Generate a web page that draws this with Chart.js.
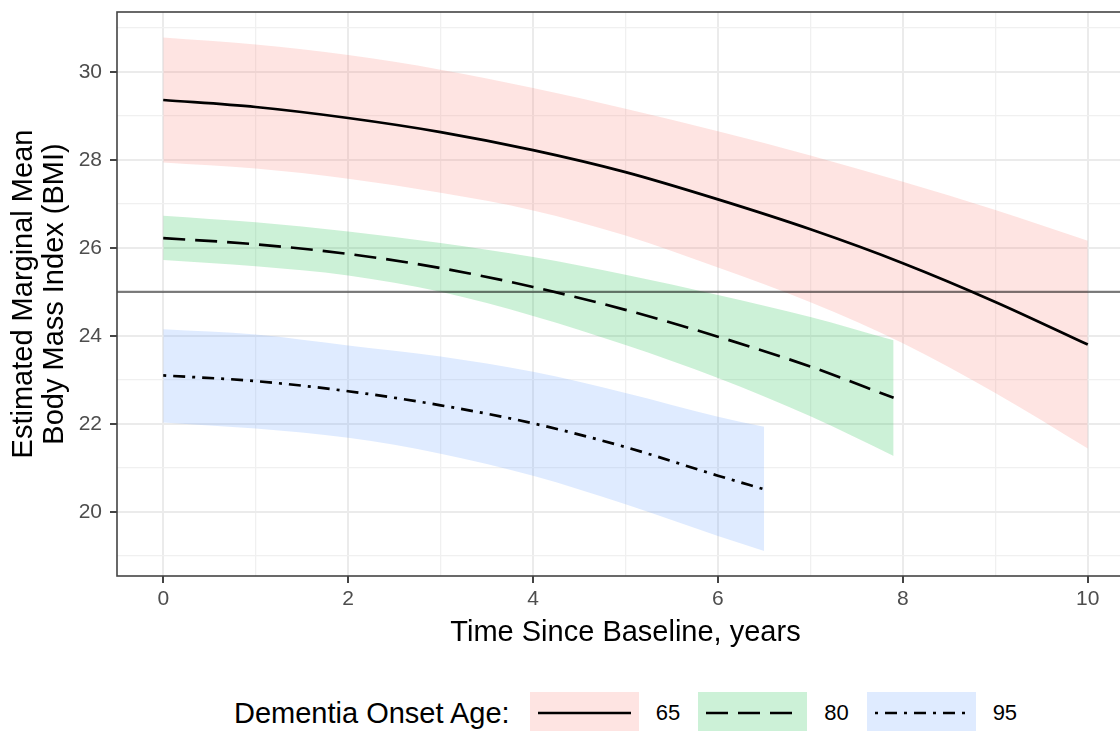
<!DOCTYPE html>
<html>
<head>
<meta charset="utf-8">
<script src="https://cdn.jsdelivr.net/npm/chart.js@4.4.1/dist/chart.umd.min.js"></script>
<style>
  html, body { margin: 0; padding: 0; background: #fff; overflow: hidden; }
  #wrap { position: relative; width: 1120px; height: 731px; overflow: hidden; font-family: "Liberation Sans", Arial, sans-serif; }
  #chartBox { position: absolute; left: 0; top: 0; width: 1140px; height: 660px; }
  #legend { position: absolute; left: 234px; top: 692px; height: 42px; display: flex; align-items: center; }
  #legend .title { font-size: 29px; color: #000; margin-right: 20px; white-space: nowrap; }
  #legend .key { width: 109px; height: 42px; }
  #legend .lab { font-size: 22px; color: #000; margin: 0 18px 0 17px; }
</style>
</head>
<body>
<div id="wrap">
  <div id="chartBox"><canvas id="grafico" width="1140" height="660"></canvas></div>
  <div id="legend"></div>
</div>
<script>
// eixos
const xMajor = [0, 2, 4, 6, 8, 10];
const xMinor = [1, 3, 5, 7, 9];
const yMajor = [20, 22, 24, 26, 28, 30];
const yMinor = [19, 21, 23, 25, 27, 29, 31];
const xRange = [-0.5, 10.5];
const yRange = [18.54, 31.36];

// idade de início 65
const times65 = [0, 1, 2, 3, 4, 5, 6, 7, 8, 9, 10];
const mean65  = [29.36, 29.20, 28.95, 28.63, 28.22, 27.72, 27.10, 26.42, 25.65, 24.77, 23.80];
const upper65 = [30.78, 30.62, 30.38, 30.05, 29.63, 29.16, 28.65, 28.10, 27.50, 26.86, 26.16];
const lower65 = [27.94, 27.80, 27.57, 27.25, 26.85, 26.28, 25.55, 24.76, 23.83, 22.70, 21.44];

// idade de início 80
const times80 = [0, 1, 2, 3, 4, 5, 6, 7, 7.9];
const mean80  = [26.22, 26.08, 25.86, 25.54, 25.11, 24.59, 23.98, 23.30, 22.59];
const upper80 = [26.73, 26.58, 26.37, 26.11, 25.79, 25.39, 24.93, 24.43, 23.90];
const lower80 = [25.72, 25.58, 25.37, 25.00, 24.45, 23.79, 23.04, 22.17, 21.27];

// idade de início 95
const times95 = [0, 1, 2, 3, 4, 5, 6, 6.5];
const mean95  = [23.10, 22.97, 22.74, 22.42, 22.01, 21.47, 20.82, 20.51];
const upper95 = [24.15, 24.03, 23.78, 23.53, 23.18, 22.70, 22.16, 21.93];
const lower95 = [22.03, 21.89, 21.68, 21.32, 20.82, 20.17, 19.45, 19.11];

// linha de referência
const refX = [-0.5, 10.5];
const refY = [25, 25];

const groupLabels = ['65', '80', '95'];
const ribbonColors = ['rgba(248,118,109,0.2)', 'rgba(0,186,56,0.2)', 'rgba(97,156,255,0.2)'];
const dashes = [[], [22, 10], [3, 7, 12, 7]];
const legendTitle = 'Dementia Onset Age:';

const FONT = '"Liberation Sans", Arial, sans-serif';

function pontos(xs, ys) {
    return xs.map((x, i) => ({ x: x, y: ys[i] }));
}

function linha(xs, ys, dash) {
    return {
        data: pontos(xs, ys),
        borderColor: '#000',
        borderWidth: 2.7,
        borderDash: dash,
        pointRadius: 0,
        fill: false,
        cubicInterpolationMode: 'monotone',
        order: 0
    };
}

function faixa(xs, ys, cor, alvo) {
    return {
        data: pontos(xs, ys),
        borderColor: 'transparent',
        borderWidth: 0,
        backgroundColor: cor,
        pointRadius: 0,
        fill: alvo === null ? false : { target: alvo },
        cubicInterpolationMode: 'monotone',
        order: 2
    };
}

const datasets = [
    linha(times65, mean65, dashes[0]),
    linha(times80, mean80, dashes[1]),
    linha(times95, mean95, dashes[2]),
    {
        data: pontos(refX, refY),
        borderColor: 'rgba(0,0,0,0.5)',
        borderWidth: 2.2,
        pointRadius: 0,
        fill: false,
        order: 1
    },
    faixa(times65, upper65, ribbonColors[0], 5),
    faixa(times65, lower65, ribbonColors[0], null),
    faixa(times80, upper80, ribbonColors[1], 7),
    faixa(times80, lower80, ribbonColors[1], null),
    faixa(times95, upper95, ribbonColors[2], 9),
    faixa(times95, lower95, ribbonColors[2], null)
];

const bordaPainel = {
    id: 'bordaPainel',
    afterDatasetsDraw(chart) {
        const { ctx, chartArea: a } = chart;
        ctx.save();
        ctx.strokeStyle = '#444444';
        ctx.lineWidth = 1.6;
        ctx.strokeRect(a.left, a.top, a.right - a.left, a.bottom - a.top);
        ctx.restore();
    }
};

function grade(major) {
    return {
        color: c => major.includes(c.tick.value) ? '#EBEBEB' : '#F0F0F0',
        lineWidth: c => major.includes(c.tick.value) ? 2 : 1.3,
        tickColor: c => major.includes(c.tick.value) ? '#444444' : 'rgba(0,0,0,0)',
        tickWidth: 2,
        tickLength: 7,
        drawTicks: true
    };
}

new Chart(document.getElementById('grafico').getContext('2d'), {
    type: 'line',
    data: { datasets: datasets },
    plugins: [bordaPainel],
    options: {
        responsive: false,
        animation: false,
        devicePixelRatio: 1,
        layout: { padding: { left: 0, top: 12, right: 6, bottom: 0 } },
        plugins: { legend: { display: false }, tooltip: { enabled: false } },
        scales: {
            x: {
                type: 'linear',
                min: xRange[0],
                max: xRange[1],
                afterBuildTicks: s => { s.ticks = xMajor.concat(xMinor).sort((a, b) => a - b).map(v => ({ value: v })); },
                afterFit: s => { s.height = 84; s.paddingLeft = 0; s.paddingRight = 0; },
                grid: grade(xMajor),
                border: { display: false },
                ticks: {
                    autoSkip: false,
                    maxRotation: 0,
                    padding: 4,
                    color: '#4D4D4D',
                    font: { family: FONT, size: 21 },
                    callback: v => xMajor.includes(v) ? String(v) : ''
                },
                title: {
                    display: true,
                    text: 'Time Since Baseline, years',
                    color: '#000',
                    font: { family: FONT, size: 29, lineHeight: 1.12 },
                    padding: { top: 0, bottom: 11 }
                }
            },
            y: {
                type: 'linear',
                min: yRange[0],
                max: yRange[1],
                afterBuildTicks: s => { s.ticks = yMajor.concat(yMinor).sort((a, b) => a - b).map(v => ({ value: v })); },
                afterFit: s => { s.width = 117; s.paddingTop = 0; s.paddingBottom = 0; },
                grid: grade(yMajor),
                border: { display: false },
                ticks: {
                    autoSkip: false,
                    padding: 8,
                    color: '#4D4D4D',
                    font: { family: FONT, size: 21 },
                    callback: v => yMajor.includes(v) ? String(v) : ''
                },
                title: {
                    display: true,
                    text: ['Estimated Marginal Mean', 'Body Mass Index (BMI)'],
                    color: '#000',
                    font: { family: FONT, size: 29, lineHeight: 1.05 },
                    padding: { top: 9, bottom: 0 }
                }
            }
        }
    }
});

// legenda em HTML
const legenda = document.getElementById('legend');
const titulo = document.createElement('span');
titulo.className = 'title';
titulo.textContent = legendTitle;
legenda.appendChild(titulo);

groupLabels.forEach((lab, i) => {
    const key = document.createElement('div');
    key.className = 'key';
    key.style.background = ribbonColors[i];
    key.innerHTML = '<svg width="109" height="42"><line x1="8" y1="21" x2="101" y2="21" stroke="#000" stroke-width="2.7"' +
        (dashes[i].length ? ' stroke-dasharray="' + dashes[i].join(' ') + '"' : '') + '/></svg>';
    legenda.appendChild(key);
    const t = document.createElement('span');
    t.className = 'lab';
    t.textContent = lab;
    legenda.appendChild(t);
});
</script>
</body>
</html>
